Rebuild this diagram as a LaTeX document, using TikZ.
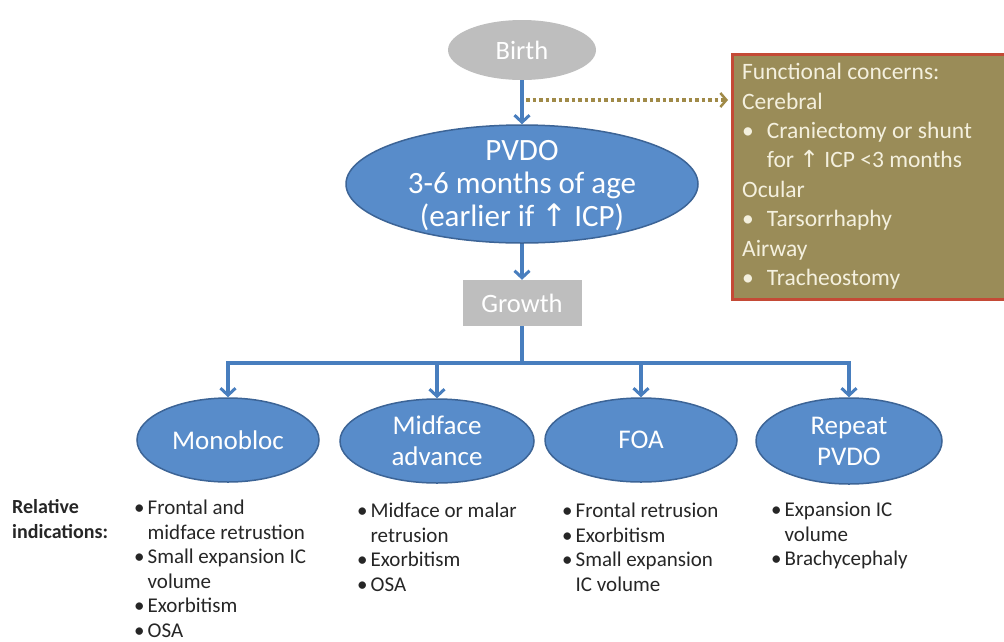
\documentclass[tikz,border=0pt]{standalone}
\usepackage{fontspec}
\setmainfont{Carlito}
\newfontfamily\symfont{DejaVu Sans}
\usepackage{tikz}
\usetikzlibrary{shapes,arrows.meta,positioning,calc}
\usepackage{xcolor}
\definecolor{stepcolor}{RGB}{88, 140, 202}
\definecolor{stepborder}{RGB}{60, 100, 150}
\definecolor{arrowcolor}{RGB}{72, 126, 190}
\definecolor{greycolor}{RGB}{190, 190, 190}
\definecolor{concerncolor}{RGB}{154, 140, 88}
\definecolor{concernborder}{RGB}{196, 74, 54}
\definecolor{concerntext}{RGB}{244, 240, 222}
\definecolor{dotcolor}{RGB}{160, 138, 72}
\definecolor{listcolor}{RGB}{38, 38, 38}
\newcommand{\up}{{\symfont ↑}}

\begin{document}
\begin{tikzpicture}[
    x=1pt, y=-1pt,
    enode/.style={ellipse, draw=stepborder, line width=1.5pt, fill=stepcolor, text=white, inner sep=0pt, align=center, font=\fontsize{27}{31}\selectfont},
    etext/.style={text=white, inner sep=0pt, align=center, font=\fontsize{31}{33}\selectfont},
    gnode/.style={fill=greycolor, text=white, inner sep=0pt, font=\fontsize{26.5}{30}\selectfont},
    lnode/.style={anchor=north west, inner sep=0pt, text=listcolor, align=left, font=\fontsize{21}{24.6}\selectfont},
    arr/.style={-{Straight Barb[length=7pt, width=15pt, line width=3pt]}, arrowcolor, line width=4pt},
    bus/.style={arrowcolor, line width=4pt},
    dotarr/.style={-{Straight Barb[length=6pt, width=14pt, line width=2.5pt]}, dotcolor, line width=3.5pt, dash pattern=on 3.5pt off 3pt}
]
    \useasboundingbox (0,0) rectangle (1004,641);

    % Top of the flow
    \node[gnode, ellipse, minimum width=148pt, minimum height=60pt] (birth) at (522,50) {Birth};
    \node[enode, minimum width=352pt, minimum height=118pt] (pvdo) at (522,184) {};
    \node[etext] (pvdotext) at (522,186) {PVDO\\3-6 months of age\\(earlier if \up\ ICP)};
    \node[gnode, rectangle, minimum width=119pt, minimum height=46pt] (growth) at (522,303) {Growth};

    % Functional concerns box
    \node[rectangle, draw=concernborder, line width=3pt, fill=concerncolor,
          anchor=north west, minimum width=290pt, minimum height=245pt, inner sep=0pt] (concern) at (731,53) {};
    \node[anchor=north west, inner sep=0pt, text=concerntext, font=\fontsize{23.5}{29.4}\selectfont] (concerntxt) at (742,59) {%
        \begin{tabular}{@{}l@{\hspace{13pt}}l@{}}
        \multicolumn{2}{@{}l@{}}{Functional concerns:}\\
        \multicolumn{2}{@{}l@{}}{Cerebral}\\
        • & Craniectomy or shunt\\
          & for \up\ ICP <3 months\\
        \multicolumn{2}{@{}l@{}}{Ocular}\\
        • & Tarsorrhaphy\\
        \multicolumn{2}{@{}l@{}}{Airway}\\
        • & Tracheostomy
        \end{tabular}};

    % Procedures
    \node[enode, minimum width=182pt, minimum height=84pt] (mono) at (228,440) {Monobloc};
    \node[enode, minimum width=194pt, minimum height=84pt] (midface) at (437,441) {Midface\\advance};
    \node[enode, minimum width=192pt, minimum height=84pt] (foa) at (641,440) {FOA};
    \node[enode, minimum width=186pt, minimum height=86pt] (repeat) at (849,441) {Repeat\\PVDO};

    % Connectors
    \draw[arr] (birth) -- (pvdo);
    \draw[arr] (pvdo) -- (growth);
    \coordinate (dotstart) at (526,100);
    \draw[dotarr] (dotstart) -- ($(dotstart -| concern.west)+(-3,0)$);
    \coordinate (split) at (522,363);
    \draw[bus] (growth) -- (split);
    \draw[bus] ([xshift=-2pt]split -| mono.north) -- ([xshift=2pt]split -| repeat.north);
    \foreach \p in {mono, midface, foa, repeat} {
        \draw[arr] (split -| \p.north) -- (\p.north);
    }

    % Relative indications
    \node[lnode, font=\bfseries\fontsize{20}{25}\selectfont] (rel) at (12,499) {Relative\\indications:};
    \node[lnode] (monolist) at (134,497) {%
        \begin{tabular}{@{}l@{\hspace{3pt}}l@{}}
        • & Frontal and\\
          & midface retrustion\\
        • & Small expansion IC\\
          & volume\\
        • & Exorbitism\\
        • & OSA
        \end{tabular}};
    \node[lnode] (midlist) at (357,500) {%
        \begin{tabular}{@{}l@{\hspace{3pt}}l@{}}
        • & Midface or malar\\
          & retrusion\\
        • & Exorbitism\\
        • & OSA
        \end{tabular}};
    \node[lnode] (foalist) at (562,500) {%
        \begin{tabular}{@{}l@{\hspace{3pt}}l@{}}
        • & Frontal retrusion\\
        • & Exorbitism\\
        • & Small expansion\\
          & IC volume
        \end{tabular}};
    \node[lnode] (replist) at (771,499) {%
        \begin{tabular}{@{}l@{\hspace{3pt}}l@{}}
        • & Expansion IC\\
          & volume\\
        • & Brachycephaly
        \end{tabular}};
\end{tikzpicture}
\end{document}
